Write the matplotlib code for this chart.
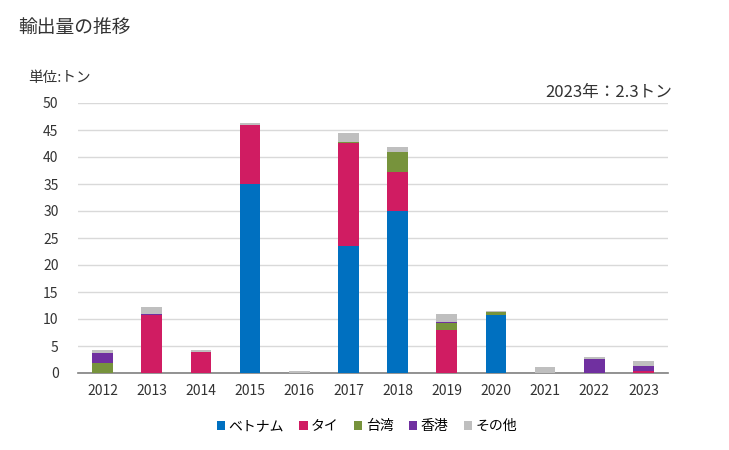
import matplotlib
matplotlib.use("Agg")
import matplotlib.pyplot as plt
import numpy as np

plt.rcParams['font.family'] = ['Noto Sans CJK JP', 'DejaVu Sans']

years = ['2012','2013','2014','2015','2016','2017','2018','2019','2020','2021','2022','2023']
series_names = ['ベトナム', 'タイ', '台湾', '香港', 'その他']
vietnam = [0, 0, 0, 35.0, 0, 23.6, 30.0, 0, 10.7, 0, 0, 0]
thai    = [0, 10.7, 3.95, 10.9, 0, 19.0, 7.3, 8.0, 0, 0, 0, 0.4]
taiwan  = [1.9, 0, 0, 0, 0, 0.2, 3.7, 1.2, 0.6, 0, 0, 0]
hongkong= [1.8, 0.3, 0, 0, 0, 0, 0, 0.3, 0, 0, 2.6, 0.9]
others  = [0.6, 1.3, 0.35, 0.4, 0.4, 1.7, 0.9, 1.5, 0.2, 1.2, 0.4, 1.0]
colors = ['#0070C0', '#D01C62', '#77933C', '#7030A0', '#BFBFBF']

fig = plt.figure(figsize=(7.29, 4.5), dpi=100)
ax = fig.add_axes([78/729, 1-373/450, 590/729, 270/450])

x = np.arange(len(years))
bottom = np.zeros(len(years))
for name, vals, c in zip(series_names, [vietnam, thai, taiwan, hongkong, others], colors):
    ax.bar(x, vals, 0.42, bottom=bottom, color=c, label=name, zorder=3)
    bottom += np.array(vals)

ax.set_xlim(-0.5, len(years)-0.5)
ax.set_ylim(0, 50)
ax.set_yticks(range(0, 51, 5))
ax.set_xticks(x)
ax.set_xticklabels(years)
ax.tick_params(axis='both', length=0, labelsize=10, colors='#333333')
ax.tick_params(axis='x', pad=8)
ax.tick_params(axis='y', pad=14)
ax.grid(axis='y', color='#D9D9D9', linewidth=1, zorder=0)
for s in ['top', 'right', 'left']:
    ax.spines[s].set_visible(False)
ax.spines['bottom'].set_color('#808080')
ax.spines['bottom'].set_linewidth(1.2)

fig.text(18/729, 1-27/450, '輸出量の推移', fontsize=13.5, va='center', ha='left', color='#333333')
fig.text(28/729, 1-78/450, '単位:トン', fontsize=10.5, va='center', ha='left', color='#333333')
fig.text(672/729, 1-93/450, '2023年：2.3トン', fontsize=12, va='center', ha='right', color='#333333')

leg = fig.legend(loc='center', bbox_to_anchor=(367/729, 1-426/450), ncol=5, frameon=False,
                 fontsize=10, handlelength=0.6, handleheight=0.6, handletextpad=0.25, columnspacing=1.1)

fig.savefig('out.png', dpi=100)
